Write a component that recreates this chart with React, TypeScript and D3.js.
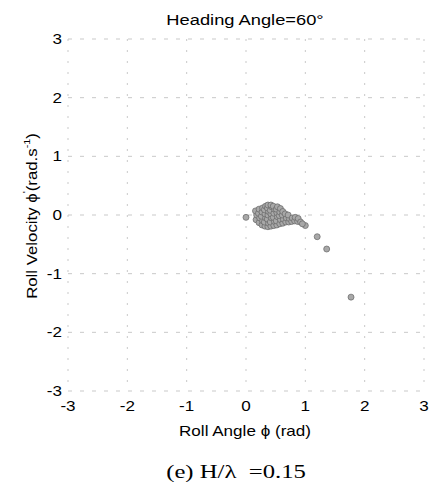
import React from "react";
import * as d3 from "d3";

const title = "Heading Angle=60°";
const xTicks = [-3, -2, -1, 0, 1, 2, 3];
const yTicks = [-3, -2, -1, 0, 1, 2, 3];

// Roll angle (rad)
const rollAngle = [
  0.0, 1.0, 1.2, 1.36, 1.77,
  0.17, 0.18, 0.16,
  0.22, 0.23, 0.21, 0.22,
  0.27, 0.28, 0.26, 0.27, 0.28,
  0.32, 0.31, 0.33, 0.32, 0.31, 0.33,
  0.37, 0.38, 0.36, 0.37, 0.38, 0.36, 0.37,
  0.42, 0.41, 0.43, 0.42, 0.41, 0.43, 0.42,
  0.47, 0.48, 0.46, 0.47, 0.48, 0.46,
  0.52, 0.51, 0.53, 0.52, 0.51, 0.53,
  0.57, 0.58, 0.56, 0.57, 0.58,
  0.62, 0.63, 0.61, 0.62,
  0.67, 0.68, 0.66,
  0.72, 0.73, 0.71,
  0.77, 0.78,
  0.82, 0.83,
  0.87, 0.88,
  0.92, 0.95,
];
// Roll velocity (rad/s)
const rollVelocity = [
  -0.04, -0.18, -0.37, -0.58, -1.4,
  -0.08, 0.0, 0.07,
  -0.13, -0.05, 0.03, 0.1,
  -0.17, -0.1, -0.02, 0.05, 0.12,
  -0.19, -0.12, -0.05, 0.02, 0.09, 0.15,
  -0.2, -0.14, -0.07, 0.0, 0.06, 0.12, 0.17,
  -0.19, -0.12, -0.05, 0.02, 0.08, 0.14, 0.17,
  -0.18, -0.11, -0.04, 0.03, 0.1, 0.15,
  -0.17, -0.1, -0.03, 0.04, 0.1, 0.14,
  -0.15, -0.08, -0.01, 0.05, 0.11,
  -0.14, -0.07, 0.0, 0.06,
  -0.12, -0.05, 0.02,
  -0.12, -0.06, 0.0,
  -0.11, -0.05,
  -0.1, -0.04,
  -0.11, -0.06,
  -0.12, -0.15,
];

const sans = "Arial, 'Liberation Sans', sans-serif";
const serif = "'Times New Roman', 'Liberation Serif', serif";

function SText({ x, y, rot = 0, sx = 1.22, anchor = "middle", size = 14, family = sans, children }: any) {
  return (
    <g transform={`translate(${x},${y}) rotate(${rot}) scale(${sx},1)`}>
      <text x={0} y={0} textAnchor={anchor} fontFamily={family} fontSize={size} style={{ whiteSpace: "pre" }} fill="#000">
        {children}
      </text>
    </g>
  );
}

export default function App() {
  const W = 433, H = 486;
  const x = d3.scaleLinear().domain([-3, 3]).range([68, 424]);
  const y = d3.scaleLinear().domain([-3, 3]).range([391, 39]);
  const pts = rollAngle.map((v, i) => [v, rollVelocity[i]]);
  return (
    <svg width={W} height={H} style={{ position: "absolute", left: 0, top: 0, background: "#fff" }}>
      <rect width={W} height={H} fill="#fff" />
      {xTicks.map((t) => (
        <line key={"gx" + t} x1={x(t)} x2={x(t)} y1={y(3)} y2={y(-3)} stroke="#bbb" strokeWidth={0.8} strokeDasharray="2,9" />
      ))}
      {yTicks.map((t) => (
        <line key={"gy" + t} x1={x(-3)} x2={x(3)} y1={y(t)} y2={y(t)} stroke="#bbb" strokeWidth={0.8} strokeDasharray="4,8" />
      ))}
      {pts.map((p, i) => (
        <circle key={i} cx={x(p[0])} cy={y(p[1])} r={3} fill="#a8a8a8" stroke="#666" strokeWidth={0.7} />
      ))}
      <SText x={245} y={25} size={15}>{title}</SText>
      {yTicks.map((t) => (
        <SText key={"ty" + t} x={62} y={y(t) + 5} anchor="end" size={14}>{t}</SText>
      ))}
      {xTicks.map((t) => (
        <SText key={"tx" + t} x={x(t)} y={411} size={14}>{t}</SText>
      ))}
      <SText x={245} y={436} size={14}>Roll Angle ϕ (rad)</SText>
      <SText x={37} y={216} rot={-90} size={14} sx={1.2}>
        Roll Velocity ϕ<tspan dy={-8} fontSize={9}>'</tspan><tspan dy={8}>(rad.s</tspan><tspan dy={-7} fontSize={9}>-1</tspan><tspan dy={7}>)</tspan>
      </SText>
      <SText x={236} y={478} size={19} family={serif} sx={1.3}>{"(e) H/λ  =0.15"}</SText>
    </svg>
  );
}
